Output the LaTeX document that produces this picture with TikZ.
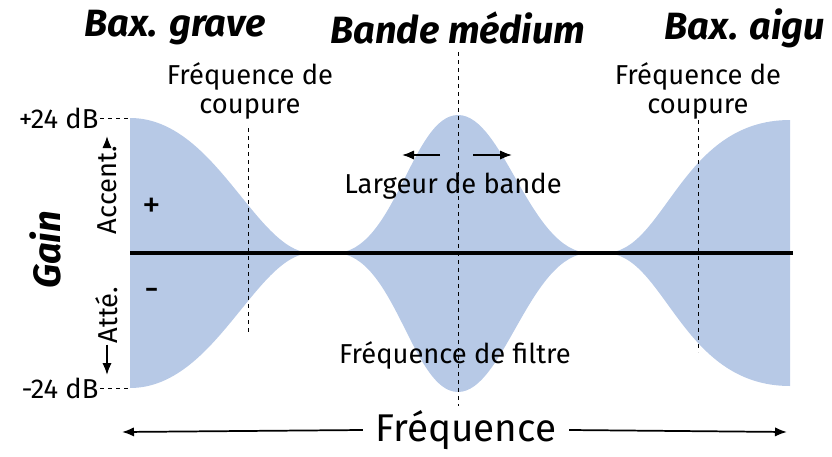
\documentclass[tikz,border=0pt]{standalone}
\usepackage{fontspec}
\setmainfont{Fira Sans}
\usetikzlibrary{positioning,arrows.meta}
\definecolor{bandblue}{HTML}{B7C9E6}
\tikzset{
  title/.style={font=\fontsize{28.5}{30}\selectfont\bfseries\itshape},
  lbl/.style={font=\fontsize{20.5}{22}\selectfont, align=center, inner sep=1pt},
  guide/.style={dashed, thin},
  arr/.style={-{Latex[length=9pt,width=7pt]}, line width=1.3pt}
}
\begin{document}
\begin{tikzpicture}[x=0.75pt,y=-0.75pt]
\useasboundingbox (0,0) rectangle (832,457);

% Filter curves
\fill[bandblue] (130,118) .. controls (215,118) and (255,250) .. (310,253)
  -- (335,253) .. controls (395,253) and (412,115) .. (458,115)
  .. controls (504,115) and (530,253) .. (590,253)
  -- (605,253) .. controls (665,253) and (680,120) .. (790,120)
  -- (790,386) .. controls (680,386) and (665,253) .. (605,253)
  -- (590,253) .. controls (530,253) and (504,392) .. (458,392)
  .. controls (412,392) and (395,253) .. (335,253)
  -- (310,253) .. controls (255,256) and (215,388) .. (130,388) -- cycle;

% Titles
\node[title] (grave) at (175,28) {Bax. grave};
\node[title] (medium) at (458,28) {Bande médium};
\node[title] (aigu) at (745,28) {Bax. aigu};

% Labels
\node[lbl] (cutl) at (250,91) {Fréquence de\\coupure};
\node[lbl] (cutr) at (698,91) {Fréquence de\\coupure};
\node[lbl] (width) at (453,186) {Largeur de bande};
\node[lbl] (filt) at (455,355) {Fréquence de filtre};
\node[font=\fontsize{28}{30}\selectfont] (plus) at (152,208) {+};
\node[font=\fontsize{28}{30}\selectfont] (minus) at (152,295) {-};
\node[lbl, anchor=east] (top) at (100,118) {+24 dB};
\node[lbl, anchor=east] (bot) at (100,388) {-24 dB};
\node[title, rotate=90] (gain) at (45,250) {Gain};
\node[lbl, rotate=90] (accent) at (107,190) {Accent.};
\node[lbl, rotate=90] (atte) at (107,315) {Atté.};
\node[font=\fontsize{29}{31}\selectfont] (freq) at (466,430) {Fréquence};

% Guides
\draw[guide] (top.east) -- (130,118);
\draw[guide] (bot.east) -- (130,388);
\draw[guide] (248,128) -- (248,333);
\draw[guide] (458,52) -- (458,406);
\draw[guide] (698,120) -- (698,352);

% Zero line
\draw[line width=3pt] (130,253) -- (793,253);

% Arrows
\draw[arr] (accent.east) -- (107,136);
\draw[arr] (atte.west) -- (107,375);
\draw[arr] (440,155) -- (402,155);
\draw[arr] (473,155) -- (512,155);
\draw[arr] (freq.west) ++(-8,0) -- (122,432);
\draw[arr] (freq.east) ++(8,0) -- (787,432);
\end{tikzpicture}
\end{document}
